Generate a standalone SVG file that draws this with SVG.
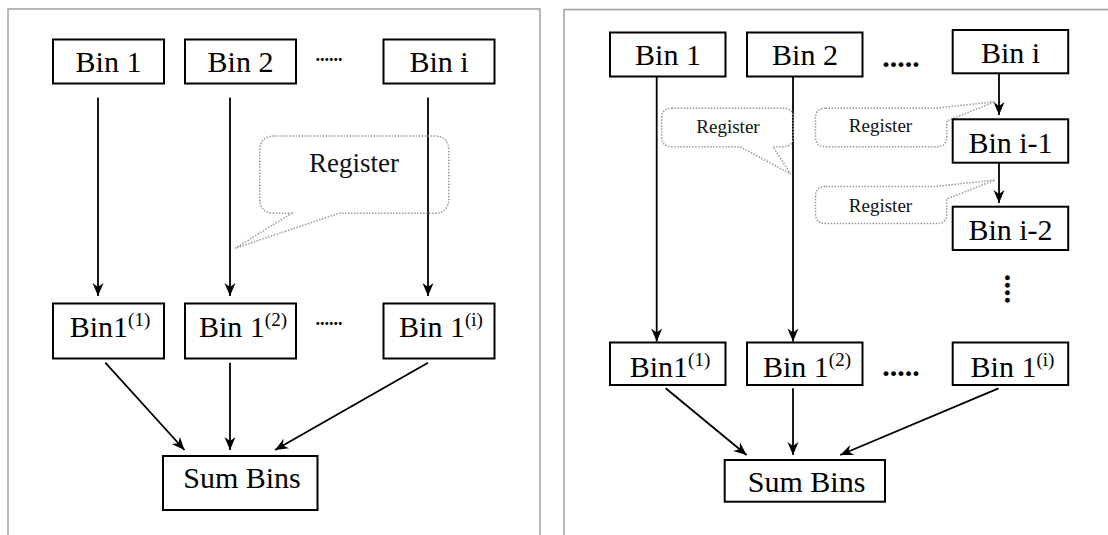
<svg xmlns="http://www.w3.org/2000/svg" width="1108" height="535" viewBox="0 0 1108 535">
<defs>
<style>
.panel{fill:none;stroke:#a0a0a0;stroke-width:1.5}
.box{fill:#fff;stroke:#000;stroke-width:2}
.t{font-family:"Liberation Serif","Times New Roman",serif;font-size:30px;fill:#000;text-anchor:middle}
.sup{font-size:19px}
.reg{font-family:"Liberation Serif","Times New Roman",serif;fill:#111;text-anchor:middle}
.call{fill:none;stroke:#999;stroke-width:1.5;stroke-dasharray:1.5 1.5}
.c{stroke:#000;stroke-width:1.8;fill:none;marker-end:url(#ah)}
.dots{font-family:"Liberation Serif","Times New Roman",serif;font-weight:bold;fill:#000;text-anchor:middle}
</style>
<marker id="ah" markerUnits="userSpaceOnUse" markerWidth="16" markerHeight="14" viewBox="-14 -7 16 14" refX="0" refY="0" orient="auto">
<path d="M0,0 L-13,-5.5 L-9,0 L-13,5.5 Z" fill="#000"/>
</marker>
</defs>
<rect width="1108" height="535" fill="#fff"/>
<rect class="panel" x="8" y="9" width="532" height="540"/>
<rect class="panel" x="564" y="9.5" width="560" height="540"/>

<g id="connectors">
<line class="c" x1="98" y1="97.5" x2="98" y2="296"/>
<line class="c" x1="230" y1="97.5" x2="230" y2="296"/>
<line class="c" x1="428" y1="97.5" x2="428" y2="296"/>
<line class="c" x1="105.3" y1="362.7" x2="184.5" y2="450"/>
<line class="c" x1="230" y1="362.7" x2="230" y2="450"/>
<line class="c" x1="428" y1="362.7" x2="275" y2="450"/>
<line class="c" x1="656.7" y1="76.5" x2="656.7" y2="341.5"/>
<line class="c" x1="793" y1="76.5" x2="793" y2="341.5"/>
<line class="c" x1="999" y1="73.3" x2="999" y2="115"/>
<line class="c" x1="999" y1="162.7" x2="999" y2="203"/>
<line class="c" x1="665.7" y1="388.3" x2="746.6" y2="455"/>
<line class="c" x1="793" y1="388.3" x2="793" y2="455"/>
<line class="c" x1="998.5" y1="388.3" x2="840.2" y2="455"/>
</g>

<g id="callout-left">
<path class="call" d="M274.7,136 H433.8 Q448.8,136 448.8,151 V198.3 Q448.8,213.3 433.8,213.3 H339 L235,248.3 L291.5,213.3 H274.7 Q259.7,213.3 259.7,198.3 V151 Q259.7,136 274.7,136 Z"/>
<text class="reg" x="354" y="171.7" font-size="27">Register</text>
</g>
<g id="callout-r1">
<path class="call" d="M671.7,108.3 H783.3 Q793.3,108.3 793.3,118.3 V136.7 Q793.3,146.7 783.3,146.7 H773 L790.7,174 L740,146.7 H671.7 Q661.7,146.7 661.7,136.7 V118.3 Q661.7,108.3 671.7,108.3 Z"/>
<text class="reg" x="728" y="132.7" font-size="19">Register</text>
</g>
<g id="callout-r2">
<path class="call" d="M825.5,108.3 H935 L995,101.7 L946.7,121 V136.7 Q946.7,146.7 936.7,146.7 H825.5 Q815.5,146.7 815.5,136.7 V118.3 Q815.5,108.3 825.5,108.3 Z"/>
<text class="reg" x="880.5" y="131.7" font-size="19">Register</text>
</g>
<g id="callout-r3">
<path class="call" d="M825.5,186.5 H935 L995,180 L946.7,199 V213.5 Q946.7,223.5 936.7,223.5 H825.5 Q815.5,223.5 815.5,213.5 V196.5 Q815.5,186.5 825.5,186.5 Z"/>
<text class="reg" x="880.5" y="211.7" font-size="19">Register</text>
</g>

<g id="L-bin1"><rect class="box" x="53" y="39.5" width="111" height="44"/><text class="t" x="108.5" y="72">Bin 1</text></g>
<g id="L-bin2"><rect class="box" x="185" y="39.5" width="111" height="44"/><text class="t" x="240.5" y="72">Bin 2</text></g>
<text class="dots" x="329" y="61" font-size="18">......</text>
<g id="L-bini"><rect class="box" x="383.5" y="39.5" width="111" height="44"/><text class="t" x="439" y="72">Bin i</text></g>

<g id="L-bin1-1"><rect class="box" x="53" y="303.5" width="111" height="55"/><text class="t" x="110" y="336.7">Bin1<tspan class="sup" dy="-11">(1)</tspan></text></g>
<g id="L-bin1-2"><rect class="box" x="185" y="303.5" width="111" height="55"/><text class="t" x="243" y="336.7">Bin 1<tspan class="sup" dy="-11">(2)</tspan></text></g>
<text class="dots" x="329" y="324.5" font-size="18">......</text>
<g id="L-bin1-i"><rect class="box" x="383.5" y="303.5" width="111" height="55"/><text class="t" x="441" y="336.7">Bin 1<tspan class="sup" dy="-11">(i)</tspan></text></g>
<g id="L-sum"><rect class="box" x="163" y="456" width="154.5" height="54"/><text class="t" x="242" y="488">Sum Bins</text></g>

<g id="R-bin1"><rect class="box" x="610" y="32.5" width="115.5" height="44"/><text class="t" x="668" y="65">Bin 1</text></g>
<g id="R-bin2"><rect class="box" x="747" y="32.5" width="115.5" height="44"/><text class="t" x="805" y="65">Bin 2</text></g>
<text class="dots" x="901" y="67" font-size="30">.....</text>
<g id="R-bini"><rect class="box" x="952.7" y="30" width="115.5" height="43.3"/><text class="t" x="1010.5" y="63">Bin i</text></g>
<g id="R-bini-1"><rect class="box" x="952.7" y="119.3" width="115.5" height="43.4"/><text class="t" x="1010.5" y="152.5">Bin i-1</text></g>
<g id="R-bini-2"><rect class="box" x="952.7" y="206.7" width="115.5" height="43.3"/><text class="t" x="1010.5" y="240">Bin i-2</text></g>
<text class="dots" x="0" y="0" font-size="30" transform="translate(1005,289) rotate(90)">....</text>

<g id="R-bin1-1"><rect class="box" x="610" y="342.5" width="115.5" height="42.5"/><text class="t" x="670" y="376.7">Bin1<tspan class="sup" dy="-11">(1)</tspan></text></g>
<g id="R-bin1-2"><rect class="box" x="747" y="342.5" width="115.5" height="42.5"/><text class="t" x="807" y="376.7">Bin 1<tspan class="sup" dy="-11">(2)</tspan></text></g>
<text class="dots" x="901" y="376" font-size="30">.....</text>
<g id="R-bin1-i"><rect class="box" x="952.7" y="342.5" width="115.5" height="42.5"/><text class="t" x="1012.5" y="376.7">Bin 1<tspan class="sup" dy="-11">(i)</tspan></text></g>
<g id="R-sum"><rect class="box" x="724.7" y="460" width="160.3" height="41.7"/><text class="t" x="806.6" y="491.7">Sum Bins</text></g>
</svg>
